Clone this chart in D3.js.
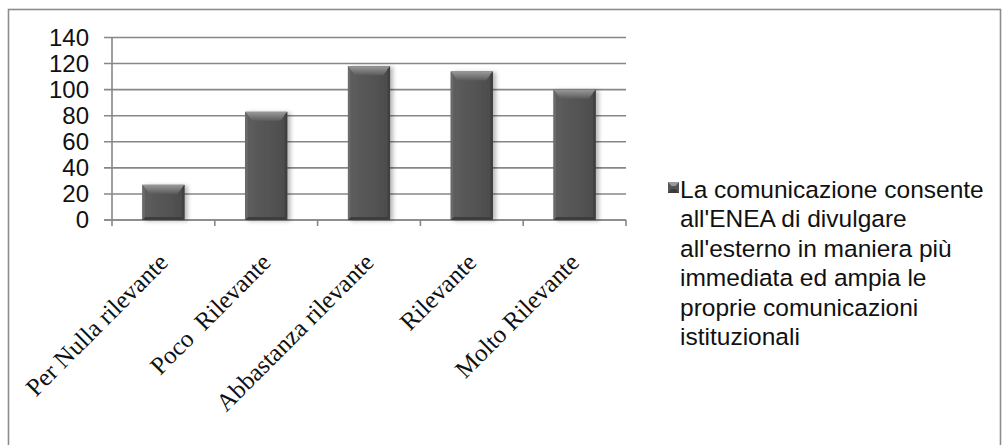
<!DOCTYPE html>
<html>
<head>
<meta charset="utf-8">
<script src="https://cdn.jsdelivr.net/npm/d3@7"></script>
<style>
  html, body { margin: 0; padding: 0; background: #fff; }
  svg { display: block; }
</style>
</head>
<body>
<svg id="chart" width="1002" height="445"></svg>
<script>
// Survey answers: how relevant respondents found the statement
const categories = ["Per Nulla rilevante", "Poco  Rilevante", "Abbastanza rilevante", "Rilevante", "Molto Rilevante"];
const values = [27, 83, 118, 114, 100];
const yTicks = [0, 20, 40, 60, 80, 100, 120, 140];
const seriesName = "La comunicazione consente all'ENEA di divulgare all'esterno in maniera più immediata ed ampia le proprie comunicazioni istituzionali";
const legendLines = [
  "La comunicazione consente",
  "all'ENEA di divulgare",
  "all'esterno in maniera più",
  "immediata ed ampia le",
  "proprie comunicazioni",
  "istituzionali"
];

const svg = d3.select("#chart");
const grey = "#878787";

// outer chart frame
svg.append("rect")
  .attr("x", 8.5).attr("y", 9.5)
  .attr("width", 992).attr("height", 460)
  .attr("fill", "none").attr("stroke", "#8c8c8c").attr("stroke-width", 1.6);

const plot = { left: 112, right: 626, top: 37.5, bottom: 220 };

const x = d3.scaleBand()
  .domain(categories)
  .range([plot.left, plot.right])
  .paddingInner(0.59)
  .paddingOuter(0.295);

const y = d3.scaleLinear().domain([0, 140]).range([plot.bottom, plot.top]);

// defs: gradients and shadow for bevelled bars
const defs = svg.append("defs");
const shadow = defs.append("filter").attr("id", "barShadow")
  .attr("x", "-30%").attr("y", "-10%").attr("width", "160%").attr("height", "130%");
shadow.append("feDropShadow")
  .attr("dx", 3).attr("dy", 1).attr("stdDeviation", 2.2)
  .attr("flood-color", "#000").attr("flood-opacity", 0.28);

const gBody = defs.append("linearGradient").attr("id", "barBody")
  .attr("x1", 0).attr("x2", 1).attr("y1", 0).attr("y2", 0);
gBody.append("stop").attr("offset", "0%").attr("stop-color", "#5e5e5e");
gBody.append("stop").attr("offset", "50%").attr("stop-color", "#555555");
gBody.append("stop").attr("offset", "100%").attr("stop-color", "#4c4c4c");

const gTop = defs.append("linearGradient").attr("id", "barTop")
  .attr("x1", 0).attr("x2", 0).attr("y1", 0).attr("y2", 1);
gTop.append("stop").attr("offset", "0%").attr("stop-color", "#9a9a9a");
gTop.append("stop").attr("offset", "100%").attr("stop-color", "#5c5c5c");

// gridlines with left tick marks
svg.append("g")
  .selectAll("line")
  .data(yTicks)
  .join("line")
  .attr("x1", plot.left - 8).attr("x2", plot.right)
  .attr("y1", d => y(d)).attr("y2", d => y(d))
  .attr("stroke", grey).attr("stroke-width", 1.6);

// y axis
const yAxis = d3.axisLeft(y).tickValues(yTicks).tickSize(0).tickPadding(0);
const yG = svg.append("g").attr("transform", `translate(${plot.left},0)`).call(yAxis);
yG.select(".domain").remove();
yG.selectAll("text")
  .attr("x", -23)
  .attr("font-family", "'Liberation Sans', Arial, sans-serif")
  .attr("font-size", 24)
  .attr("fill", "#111");
svg.append("line")
  .attr("x1", plot.left).attr("x2", plot.left)
  .attr("y1", plot.top).attr("y2", plot.bottom + 0.8)
  .attr("stroke", grey).attr("stroke-width", 1.6);

// x axis baseline and category ticks
const step = x.step();
const xTickPos = d3.range(categories.length + 1).map(i => plot.left + i * step);
svg.append("line")
  .attr("x1", plot.left - 8).attr("x2", plot.right)
  .attr("y1", plot.bottom).attr("y2", plot.bottom)
  .attr("stroke", grey).attr("stroke-width", 1.6);
svg.append("g").selectAll("line")
  .data(xTickPos)
  .join("line")
  .attr("x1", d => d).attr("x2", d => d)
  .attr("y1", plot.bottom).attr("y2", plot.bottom + 6)
  .attr("stroke", grey).attr("stroke-width", 1.6);

// bars with bevel
const bev = 7;
const bars = svg.append("g").selectAll("g")
  .data(categories.map((c, i) => ({ c, v: values[i] })))
  .join("g")
  .attr("filter", "url(#barShadow)");

bars.append("rect")
  .attr("x", d => x(d.c))
  .attr("y", d => y(d.v))
  .attr("width", x.bandwidth())
  .attr("height", d => y(0) - y(d.v))
  .attr("fill", "url(#barBody)");

// top bevel
bars.append("path")
  .attr("d", d => {
    const x0 = x(d.c), x1 = x0 + x.bandwidth(), t = y(d.v);
    return `M${x0},${t}L${x1},${t}L${x1 - bev},${t + bev + 2}L${x0 + bev},${t + bev + 2}Z`;
  })
  .attr("fill", "url(#barTop)");
// left bevel
bars.append("path")
  .attr("d", d => {
    const x0 = x(d.c), t = y(d.v), b = y(0);
    return `M${x0},${t}L${x0 + 2.5},${t + 3}L${x0 + 2.5},${b - 2}L${x0},${b}Z`;
  })
  .attr("fill", "#6a6a6a");
// right bevel
bars.append("path")
  .attr("d", d => {
    const x1 = x(d.c) + x.bandwidth(), t = y(d.v), b = y(0);
    return `M${x1},${t}L${x1 - 2.5},${t + 3}L${x1 - 2.5},${b - 2}L${x1},${b}Z`;
  })
  .attr("fill", "#404040");
// bottom bevel
bars.append("path")
  .attr("d", d => {
    const x0 = x(d.c), x1 = x0 + x.bandwidth(), b = y(0);
    return `M${x0},${b}L${x1},${b}L${x1 - 3},${b - 3}L${x0 + 3},${b - 3}Z`;
  })
  .attr("fill", "#3e3e3e");

// rotated category labels, anchored just right of each band centre
svg.append("g").selectAll("text")
  .data(categories)
  .join("text")
  .attr("transform", d => `translate(${x(d) + x.bandwidth() / 2 + 6},264) rotate(-45)`)
  .attr("text-anchor", "end")
  .attr("font-family", "'Liberation Serif', 'Times New Roman', serif")
  .attr("font-size", 25)
  .attr("fill", "#111")
  .style("white-space", "pre")
  .text(d => d);

// legend
const legend = svg.append("g").attr("aria-label", seriesName);
const mk = legend.append("g").attr("transform", "translate(668,182)");
mk.append("rect").attr("width", 11).attr("height", 11).attr("fill", "#555");
mk.append("path").attr("d", "M0,0L11,0L7.5,4L3.5,4Z").attr("fill", "#9a9a9a");
mk.append("path").attr("d", "M0,11L11,11L7.5,7L3.5,7Z").attr("fill", "#3c3c3c");

legend.selectAll("text")
  .data(legendLines)
  .join("text")
  .attr("x", 680)
  .attr("y", (d, i) => 198 + i * 29.4)
  .attr("font-family", "'Liberation Sans', Arial, sans-serif")
  .attr("font-size", 24.5)
  .attr("fill", "#111")
  .text(d => d);
</script>
</body>
</html>
